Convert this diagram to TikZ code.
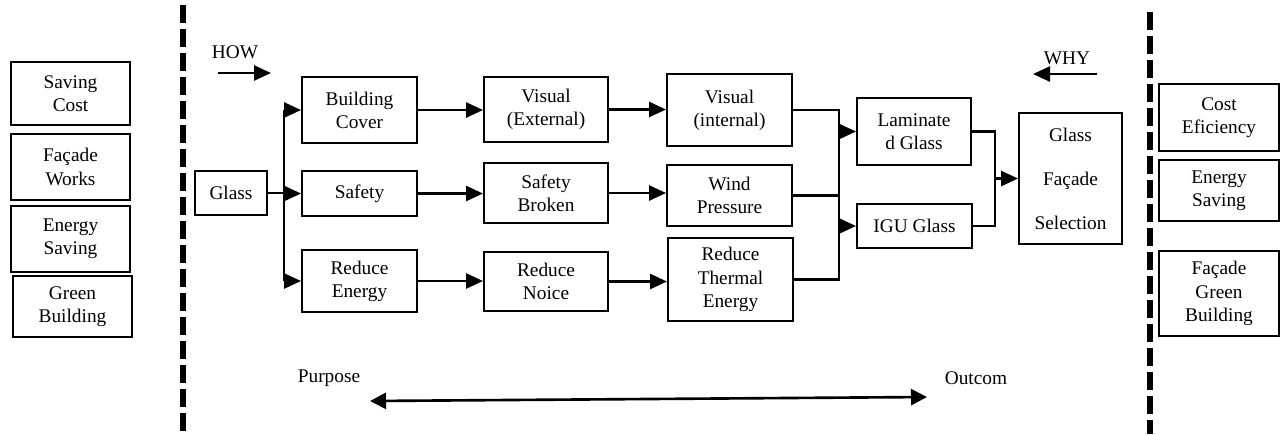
\documentclass[tikz,border=0pt]{standalone}
\usepackage{fontspec}
\setmainfont{Liberation Serif}
\usetikzlibrary{arrows.meta}

\tikzset{
  blk/.style n args={2}{draw, line width=1.1pt, align=center, inner sep=0pt,
    minimum width=#1*0.02cm, minimum height=#2*0.02cm},
  conn/.style={line width=1.5pt},
  arr/.style={conn, -{Triangle[length=0.34cm,width=0.3cm]}},
  divider/.style={line width=0.12cm, dash pattern=on 0.36cm off 0.12cm},
}

\begin{document}
\begin{tikzpicture}[x=0.02cm, y=-0.02cm, font=\fontsize{11}{13.2}\selectfont]
  \useasboundingbox (0,0) rectangle (1285,434);

  % dashed dividers
  \coordinate (lt) at (183,5);   \coordinate (lb) at (183,434);
  \coordinate (rt) at (1150,12); \coordinate (rb) at (1150,434);
  \draw[divider] (lt) -- (lb);
  \draw[divider] (rt) -- (rb);

  % left column
  \foreach \n/\x/\y/\h/\lbl in {sc/70.5/93.5/63/{Saving\\Cost},
      fw/70.5/167/66/{Façade\\Works}, es/70.5/239/66/{Energy\\Saving},
      gb/72.5/306.5/61/{Green\\Building}}
  \node[blk={119}{\h}] (\n) at (\x,\y) {\lbl};

  % right column
  \foreach \n/\y/\h/\lbl in {ce/117.5/67/{Cost\\Eficiency},
      esr/190.5/61/{Energy\\Saving}, fgb/293.5/85/{Façade\\Green\\Building}}
  \node[blk={120}{\h}] (\n) at (1219,\y) {\lbl};

  % how / why
  \node (how) at (235,52) {HOW};
  \coordinate (howa) at (218,73); \coordinate (howb) at (271,73);
  \draw[arr] (howa) -- (howb);
  \node (why) at (1067,58) {WHY};
  \coordinate (whya) at (1097,74); \coordinate (whyb) at (1033,74);
  \draw[arr] (whya) -- (whyb);

  % main chain
  \node[blk={72}{44}] (glass) at (231,193) {Glass};

  \node[blk={115}{66}] (bc) at (359.5,110) {Building\\Cover};
  \node[blk={115}{45}] (sf) at (359.5,193.5) {Safety};
  \node[blk={115}{62}] (re) at (359.5,281) {Reduce\\Energy};

  \node[blk={124}{65}] (ve) at (546,109.5) {Visual\\(External)};
  \node[blk={124}{60}] (sb) at (546,193) {Safety\\Broken};
  \node[blk={124}{59}] (rn) at (546,281.5) {Reduce\\Noice};

  \node[blk={125}{72}] (vi) at (729.5,110) {Visual\\(internal)};
  \node[blk={125}{61}] (wp) at (729.5,195.5) {Wind\\Pressure};
  \node[blk={125}{83}] (rth) at (730.5,279.5) {Reduce\\Thermal\\Energy};

  \node[blk={114}{67}] (lam) at (914,131.5) {Laminate\\d Glass};
  \node[blk={115}{44}] (igu) at (914.5,226) {IGU Glass};

  \node[blk={103}{131}, font=\fontsize{11}{25}\selectfont] (gfs) at (1070.5,178.5)
    {Glass\\Façade\\Selection};

  % split after glass
  \coordinate (split) at (284,193);
  \draw[conn] (glass.east) -- (split);
  \draw[conn] (split |- bc.west) -- (split |- re.west);
  \foreach \t in {bc,sf,re}
  \draw[arr] (split |- \t.west) -- (\t.west);

  % straight rows
  \foreach \a/\b in {bc/ve,sf/sb,re/rn,ve/vi,sb/wp,rn/rth}
  \draw[arr] (\a.east) -- (\a.east -| \b.west);

  % merge into glass types
  \coordinate (merge) at (839,193);
  \draw[conn] (vi.east) -- (merge |- vi.east) -- (merge |- rth.east) -- (rth.east);
  \draw[conn] (wp.east) -- (merge |- wp.east);
  \draw[arr] (merge |- lam.west) -- (lam.west);
  \draw[arr] (merge |- igu.west) -- (igu.west);

  % merge into selection
  \coordinate (join) at (995,178.5);
  \draw[conn] (lam.east) -- (join |- lam.east) -- (join |- igu.east) -- (igu.east);
  \draw[arr] (join) -- (gfs.west);

  % purpose / outcome
  \node (purpose) at (329,378) {Purpose};
  \node (outcom) at (976,378) {Outcom};
  \coordinate (pl) at (370,401); \coordinate (pr) at (927,397);
  \draw[conn, {Triangle[length=0.32cm,width=0.32cm]}-{Triangle[length=0.32cm,width=0.32cm]}] (pl) -- (pr);

\end{tikzpicture}
\end{document}
